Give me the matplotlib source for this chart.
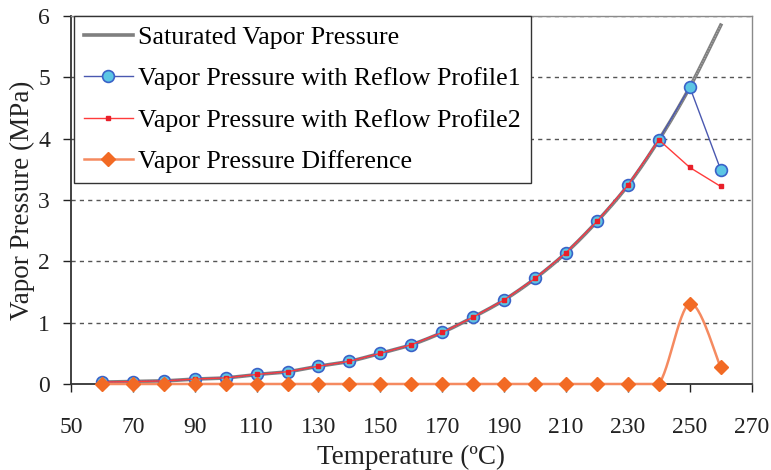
import numpy as np
import matplotlib.pyplot as plt

plt.rcParams['font.family'] = ['Liberation Serif', 'DejaVu Serif']

temps = [60, 70, 80, 90, 100, 110, 120, 130, 140, 150, 160,
         170, 180, 190, 200, 210, 220, 230, 240, 250, 260]
sat_p = [0.03, 0.04, 0.05, 0.08, 0.10, 0.155, 0.20, 0.29, 0.37, 0.50, 0.64,
         0.84, 1.09, 1.37, 1.72, 2.14, 2.65, 3.24, 3.98, 4.84, 5.85]
prof1_p = [0.03, 0.04, 0.05, 0.08, 0.10, 0.155, 0.20, 0.29, 0.37, 0.50, 0.64,
           0.84, 1.09, 1.37, 1.72, 2.14, 2.65, 3.24, 3.98, 4.84, 3.49]
prof2_p = [0.03, 0.04, 0.05, 0.08, 0.10, 0.155, 0.20, 0.29, 0.37, 0.50, 0.64,
           0.84, 1.09, 1.37, 1.72, 2.14, 2.65, 3.24, 3.98, 3.53, 3.22]
diff_p = [0, 0, 0, 0, 0, 0, 0, 0, 0, 0, 0,
          0, 0, 0, 0, 0, 0, 0, 0, 1.31, 0.27]

xticks = list(range(50, 271, 20))
yticks = list(range(0, 7))


def smooth(x, y, n=30):
    # bezier smoothing through the points, like a spreadsheet "smoothed line"
    p = np.column_stack([x, y]).astype(float)
    out = [p[0]]
    for i in range(len(p) - 1):
        p0 = p[max(i - 1, 0)]
        p1 = p[i]
        p2 = p[i + 1]
        p3 = p[min(i + 2, len(p) - 1)]
        c1 = p1 + (p2 - p0) / 6
        c2 = p2 - (p3 - p1) / 6
        t = np.linspace(0, 1, n)[1:, None]
        seg = ((1 - t) ** 3) * p1 + 3 * ((1 - t) ** 2) * t * c1 \
            + 3 * (1 - t) * t ** 2 * c2 + t ** 3 * p2
        out.extend(seg)
    out = np.array(out)
    return out[:, 0], out[:, 1]


fig = plt.figure(figsize=(7.71, 4.70), dpi=100)
ax = fig.add_axes([0.092, 0.183, 0.883, 0.783])

for v in yticks[1:]:
    ax.axhline(v, color='#555555', lw=1.0, ls=(0, (3, 3)), zorder=0)

sx, sy = smooth(temps, sat_p)
ax.plot(sx, sy, color='#7f7f7f', lw=2.6, zorder=2, clip_on=False)
ax.plot(sx, sy, color='#b0b0b0', lw=0.8, ls=(0, (1, 1.5)), zorder=2,
        clip_on=False)

ax.plot(temps, prof1_p, color='#4a58b0', lw=1.0, marker='o', ms=8.5,
        mfc='#5cc6e4', mec='#3a62c8', mew=1.2, zorder=3, clip_on=False)
ax.plot(temps, prof2_p, color='#ff3b3b', lw=1.0, marker='s', ms=3,
        mfc='#e8202a', mec='#e8202a', zorder=4, clip_on=False)

# smoothed curve would dip below the axis; keep it at the floor
dx, dy = smooth(temps, diff_p)
ax.plot(dx, np.maximum(dy, 0), color='#f58a60', lw=1.8, zorder=5,
        clip_on=False)
ax.plot(temps, diff_p, ls='none', marker='D', ms=7.5, color='#f26a24',
        zorder=6, clip_on=False)

# legend proxies
h_sat, = ax.plot([], [], color='#7f7f7f', lw=2.6)
h1, = ax.plot([], [], color='#4a58b0', lw=1.0, marker='o', ms=8.5,
              mfc='#5cc6e4', mec='#3a62c8', mew=1.2)
h2, = ax.plot([], [], color='#ff3b3b', lw=1.0, marker='s', ms=3,
              mfc='#e8202a', mec='#e8202a')
h3, = ax.plot([], [], color='#f58a60', lw=1.8, marker='D', ms=7.5,
              mfc='#f26a24', mec='#f26a24')
leg = ax.legend([h_sat, h1, h2, h3],
                ['Saturated Vapor Pressure',
                 'Vapor Pressure with Reflow Profile1',
                 'Vapor Pressure with Reflow Profile2',
                 'Vapor Pressure Difference'],
                loc='upper left', bbox_to_anchor=(0.004, 1.0), borderaxespad=0,
                fontsize=18.7, frameon=True, fancybox=False, framealpha=1,
                edgecolor='#333333', handlelength=1.9, handletextpad=0.2,
                labelspacing=0.7, borderpad=0.38)
leg.get_frame().set_linewidth(1.0)
leg.set_zorder(10)

ax.set_xlim(50, 270)
ax.set_ylim(0, 6)
ax.set_xticks(xticks)
ax.set_yticks(yticks)
ax.tick_params(direction='out', length=6, width=1, labelsize=17,
               colors='#222222')
ax.tick_params(axis='x', pad=18)
ax.tick_params(axis='y', pad=9)

for side in ['left', 'bottom']:
    ax.spines[side].set_color('#333333')
    ax.spines[side].set_linewidth(1.3)
for side in ['top', 'right']:
    ax.spines[side].set_color('#8a8a8a')
    ax.spines[side].set_linewidth(1.0)

ax.set_xlabel('Temperature (\u00baC)', fontsize=19.5, color='#222222',
              labelpad=5)
ax.set_ylabel('Vapor Pressure (MPa)', fontsize=19.5, color='#222222',
              labelpad=2)

fig.savefig('out.png', dpi=100)
